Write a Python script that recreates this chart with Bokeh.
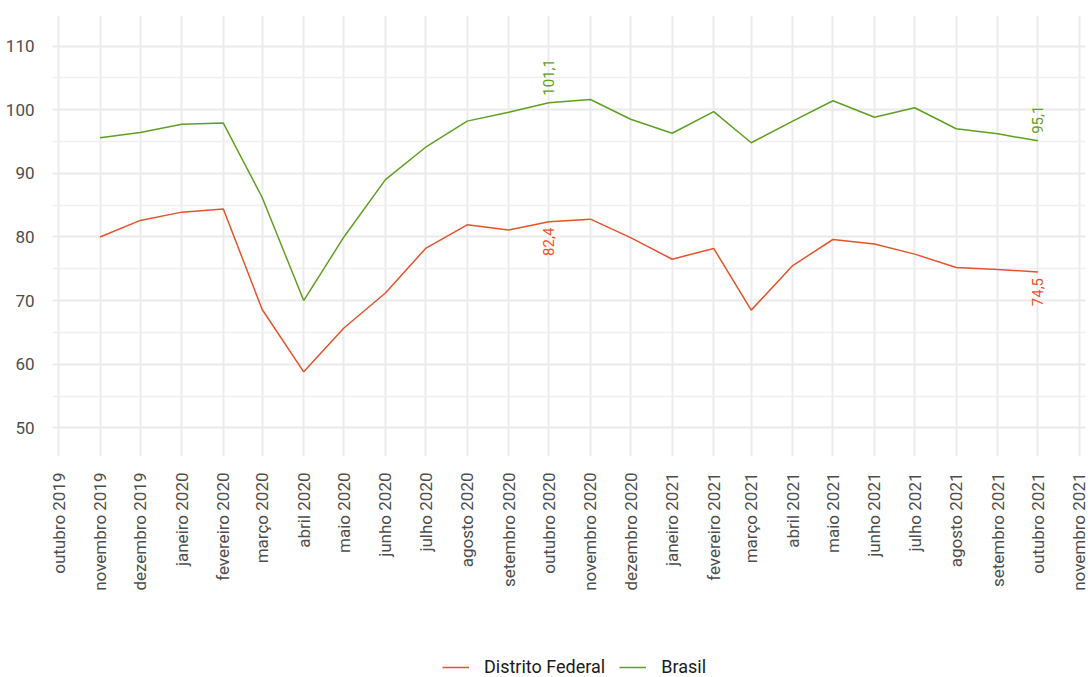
import math
import pandas as pd
from bokeh.plotting import figure
from bokeh.layouts import column
from bokeh.models import (Range1d, FixedTicker, SingleIntervalTicker, Legend,
                          ColumnDataSource)
from bokeh.core.properties import value
from bokeh.embed import file_html
from bokeh.resources import INLINE

# ---------------- data ----------------
months = ["2019-11-01", "2019-12-01", "2020-01-01", "2020-02-01", "2020-03-01",
          "2020-04-01", "2020-05-01", "2020-06-01", "2020-07-01", "2020-08-01",
          "2020-09-01", "2020-10-01", "2020-11-01", "2020-12-01", "2021-01-01",
          "2021-02-01", "2021-03-01", "2021-04-01", "2021-05-01", "2021-06-01",
          "2021-07-01", "2021-08-01", "2021-09-01", "2021-10-01"]
distrito_federal = [80.0, 82.6, 83.9, 84.4, 68.6, 58.8, 65.7, 71.2, 78.2, 81.9,
                    81.1, 82.4, 82.8, 79.9, 76.5, 78.2, 68.5, 75.5, 79.6, 78.9,
                    77.3, 75.2, 74.9, 74.5]
brasil = [95.6, 96.4, 97.7, 97.9, 86.2, 70.0, 80.0, 89.0, 94.1, 98.2,
          99.6, 101.1, 101.6, 98.5, 96.3, 99.7, 94.8, 98.2, 101.4, 98.8,
          100.3, 97.0, 96.2, 95.1]
series_names = ["Distrito Federal", "Brasil"]

tick_dates = ["2019-10-01", "2019-11-01", "2019-12-01", "2020-01-01", "2020-02-01",
              "2020-03-01", "2020-04-01", "2020-05-01", "2020-06-01", "2020-07-01",
              "2020-08-01", "2020-09-01", "2020-10-01", "2020-11-01", "2020-12-01",
              "2021-01-01", "2021-02-01", "2021-03-01", "2021-04-01", "2021-05-01",
              "2021-06-01", "2021-07-01", "2021-08-01", "2021-09-01", "2021-10-01",
              "2021-11-01"]
tick_labels = ["outubro 2019", "novembro 2019", "dezembro 2019", "janeiro 2020",
               "fevereiro 2020", "março 2020", "abril 2020", "maio 2020",
               "junho 2020", "julho 2020", "agosto 2020", "setembro 2020",
               "outubro 2020", "novembro 2020", "dezembro 2020", "janeiro 2021",
               "fevereiro 2021", "março 2021", "abril 2021", "maio 2021",
               "junho 2021", "julho 2021", "agosto 2021", "setembro 2021",
               "outubro 2021", "novembro 2021"]

label_months = ["2020-10-01", "2021-10-01"]
label_df = [82.4, 74.5]
label_br = [101.1, 95.1]
label_df_text = ["82,4", "74,5"]
label_br_text = ["101,1", "95,1"]

# ---------------- styles ----------------
RED = "#E5532B"
GREEN = "#5FA022"
FONT = "Roboto"


def ms(d):
    return pd.Timestamp(d).value / 1e6


x = pd.to_datetime(months)
tick_ms = [ms(d) for d in tick_dates]
DAY = 86400000.0
x_rng = Range1d(tick_ms[0] - 4.5 * DAY, tick_ms[-1] + 4.5 * DAY)

p = figure(width=1088, height=645, x_axis_type="datetime",
           output_backend="svg", toolbar_location=None,
           x_range=x_rng, y_range=Range1d(45.5, 114.8),
           min_border_left=52, min_border_right=3, min_border_top=15,
           min_border_bottom=189)
p.outline_line_color = None
p.background_fill_color = "white"
p.border_fill_color = "white"

src = ColumnDataSource(dict(x=x, df=distrito_federal, br=brasil))
r1 = p.line("x", "df", source=src, line_color=RED, line_width=1.5)
r2 = p.line("x", "br", source=src, line_color=GREEN, line_width=1.5)

lx = pd.to_datetime(label_months)
p.text(x=lx, y=label_br, text=label_br_text, angle=math.pi / 2,
       text_align="left", text_baseline="middle", y_offset=-7,
       text_color=GREEN, text_font=value(FONT), text_font_size="15px")
p.text(x=lx, y=label_df, text=label_df_text, angle=math.pi / 2,
       text_align="right", text_baseline="middle", y_offset=6,
       text_color=RED, text_font=value(FONT), text_font_size="15px")

# axes
xa = p.xaxis[0]
xa.ticker = FixedTicker(ticks=tick_ms)
xa.major_label_overrides = {t: lab for t, lab in zip(tick_ms, tick_labels)}
xa.major_label_orientation = math.pi / 2

ya = p.yaxis[0]
ya.ticker = SingleIntervalTicker(interval=10, num_minor_ticks=2)

for ax in (xa, ya):
    ax.axis_line_color = None
    ax.major_tick_line_color = None
    ax.minor_tick_line_color = None
    ax.major_label_text_font = FONT
    ax.major_label_text_font_size = "17px"
    ax.major_label_text_color = "#4D4D4D"
    ax.major_label_standoff = 10
ya.major_label_standoff = 12

p.xgrid.ticker = FixedTicker(ticks=tick_ms)
p.xgrid.grid_line_color = "#EBEBEB"
p.xgrid.grid_line_width = 2
p.ygrid.grid_line_color = "#EBEBEB"
p.ygrid.grid_line_width = 2
p.ygrid.minor_grid_line_color = "#EFEFEF"
p.ygrid.minor_grid_line_width = 1.5

# legend strip below the plot (series drawn out of view; only the key shows)
lf = figure(width=1088, height=32, output_backend="svg", toolbar_location=None,
            x_axis_type="datetime", x_range=x_rng, y_range=Range1d(0, 1),
            x_axis_location=None, y_axis_location=None,
            min_border_left=0, min_border_right=0, min_border_top=0,
            min_border_bottom=0)
lf.outline_line_color = None
lf.xgrid.visible = False
lf.ygrid.visible = False
k1 = lf.line(x=x, y=distrito_federal, line_color=RED, line_width=1.5)
k2 = lf.line(x=x, y=brasil, line_color=GREEN, line_width=1.5)

legend = Legend(items=[(series_names[0], [k1]), (series_names[1], [k2])],
                orientation="horizontal", location=(390, 0),
                label_text_font=FONT, label_text_font_size="18px",
                label_text_color="#1A1A1A",
                glyph_width=27, glyph_height=20, label_standoff=15, spacing=14,
                border_line_color=None, background_fill_alpha=0,
                padding=0, margin=0)
lf.add_layout(legend, "center")

layout = column(p, lf, spacing=0)
open("out.html", "w").write(file_html(layout, INLINE))
